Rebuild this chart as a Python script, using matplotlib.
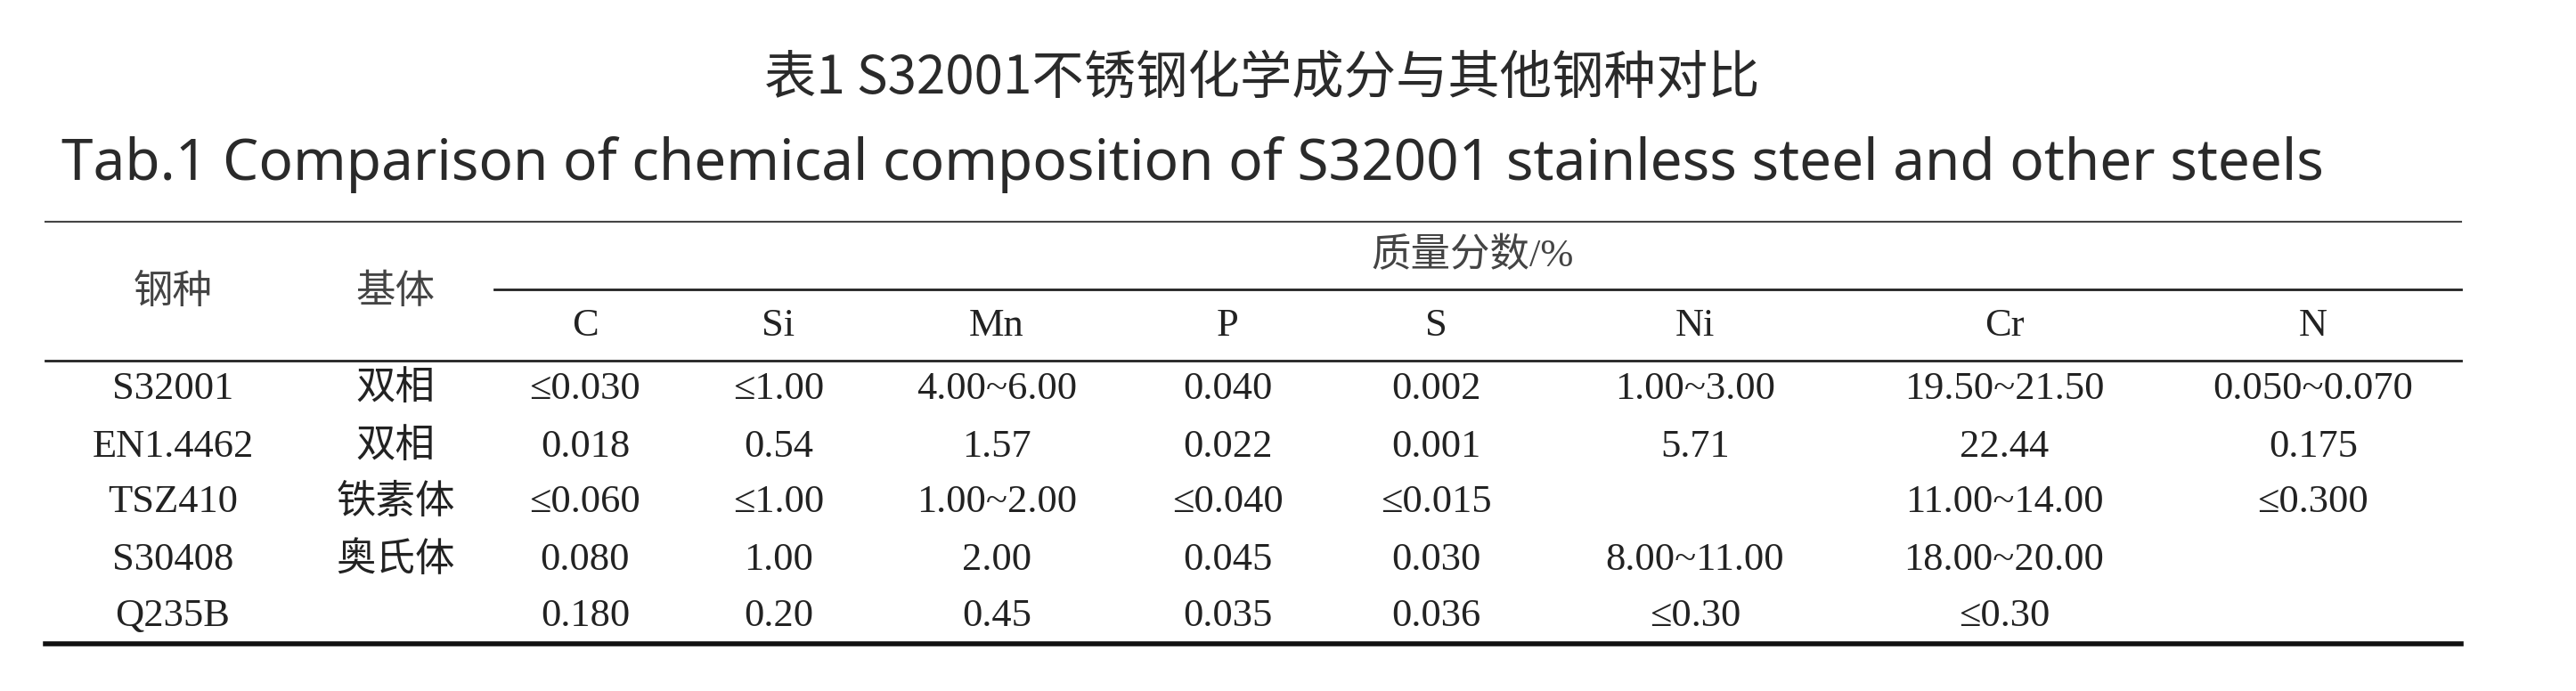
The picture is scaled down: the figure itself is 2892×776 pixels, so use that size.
import matplotlib.pyplot as plt

plt.rcParams['font.family'] = ['Liberation Serif', 'Noto Sans CJK SC', 'DejaVu Sans']

# Table content
title_cn = "表1 S32001不锈钢化学成分与其他钢种对比"
title_en = "Tab.1 Comparison of chemical composition of S32001 stainless steel and other steels"
group_label = "质量分数/%"
row_header = ["钢种", "基体"]
elements = ["C", "Si", "Mn", "P", "S", "Ni", "Cr", "N"]
grades = ["S32001", "EN1.4462", "TSZ410", "S30408", "Q235B"]
matrix = ["双相", "双相", "铁素体", "奥氏体", ""]
values = [
    ["≤0.030", "≤1.00", "4.00~6.00", "0.040", "0.002", "1.00~3.00", "19.50~21.50", "0.050~0.070"],
    ["0.018", "0.54", "1.57", "0.022", "0.001", "5.71", "22.44", "0.175"],
    ["≤0.060", "≤1.00", "1.00~2.00", "≤0.040", "≤0.015", "", "11.00~14.00", "≤0.300"],
    ["0.080", "1.00", "2.00", "0.045", "0.030", "8.00~11.00", "18.00~20.00", ""],
    ["0.180", "0.20", "0.45", "0.035", "0.036", "≤0.30", "≤0.30", ""],
]

# Layout in pixel coordinates
W, H = 2892, 776
col_x = [194, 444, 657, 874, 1119, 1378, 1612, 1903, 2250, 2597]
row_y = [437, 502, 564, 629, 692]
x0, x1 = 51, 2763

fig = plt.figure(figsize=(W / 100, H / 100), dpi=100)
ax = fig.add_axes([0, 0, 1, 1])
ax.set_xlim(0, W)
ax.set_ylim(H, 0)
ax.axis('off')

ax.text(1417, 88, title_cn, ha='center', va='center', fontsize=42,
        family=['Noto Sans CJK SC', 'DejaVu Sans'], color='#2a2a2a')
ax.text(1339, 185, title_en, ha='center', va='center', fontsize=46,
        family=['Noto Sans', 'DejaVu Sans'], color='#2a2a2a')

ax.plot([x0, x1], [249, 249], color='#444444', lw=1.5)
ax.plot([555, x1], [325, 325], color='#222222', lw=2)
ax.plot([x0, x1], [405, 405], color='#222222', lw=2)
ax.plot([x0, x1], [723, 723], color='#111111', lw=4)

fs = 32
ax.text(1653, 287, group_label, ha='center', va='center', fontsize=fs, color='#444444')
for x, lab in zip(col_x[:2], row_header):
    ax.text(x, 328, lab, ha='center', va='center', fontsize=fs, color='#444444')
for x, lab in zip(col_x[2:], elements):
    ax.text(x, 366, lab, ha='center', va='center', fontsize=fs, color='#222222')

for i, y in enumerate(row_y):
    cells = [grades[i], matrix[i]] + values[i]
    for x, s in zip(col_x, cells):
        ax.text(x, y, s, ha='center', va='center', fontsize=fs, color='#222222')

fig.savefig("out.png", dpi=100, facecolor='white')
